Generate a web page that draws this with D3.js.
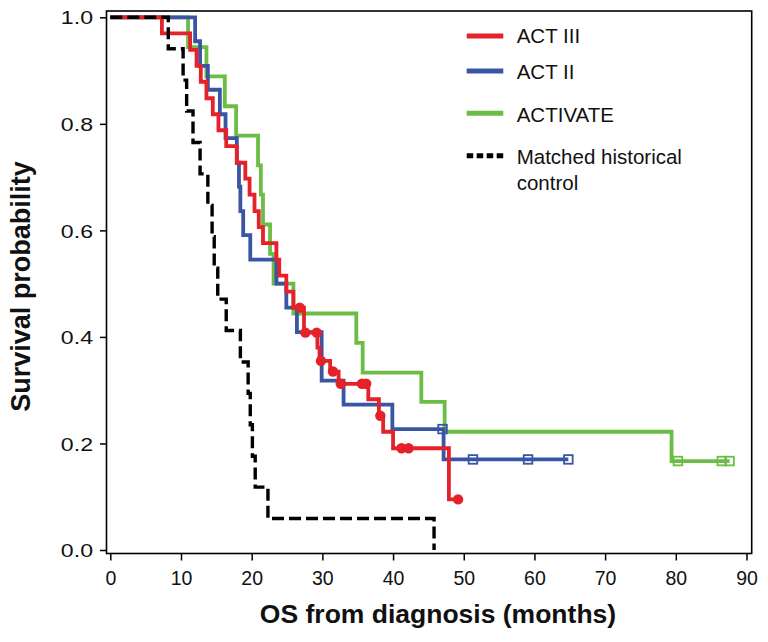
<!DOCTYPE html>
<html>
<head>
<meta charset="utf-8">
<script src="https://cdn.jsdelivr.net/npm/d3@7"></script>
<style>
  html, body { margin: 0; padding: 0; background: #fff; }
  svg { display: block; font-family: "Liberation Sans", Arial, Helvetica, sans-serif; }
</style>
</head>
<body>
<svg id="chart" width="768" height="642"></svg>
<script>
// ---- Data ----
const xTicks = [0, 10, 20, 30, 40, 50, 60, 70, 80, 90];
const yTicks = [0, 0.2, 0.4, 0.6, 0.8, 1.0];

// Kaplan-Meier steps: [month, survival after the step]
const actIIISteps = [[0,1],[7.3,0.970],[11.3,0.939],[12.2,0.909],[12.8,0.879],[13.6,0.848],[14.5,0.818],[15.3,0.788],[16.4,0.758],[17.9,0.727],[19.1,0.697],[19.7,0.667],[20.4,0.636],[21.0,0.606],[21.6,0.576],[23.5,0.545],[23.9,0.515],[24.9,0.485],[25.9,0.455],[27.4,0.408],[29.3,0.380],[29.6,0.355],[31.1,0.335],[32.3,0.312],[36.5,0.283],[38.0,0.252],[38.6,0.222],[40.0,0.191],[47.9,0.095]];
const actIIICensor = [26.8, 27.6, 29.2, 29.8, 31.5, 32.6, 35.6, 36.2, 38.2, 41.2, 42.2, 49.2];

const actIISteps = [[0,1],[12.0,0.955],[12.7,0.909],[13.8,0.864],[15.5,0.818],[16.3,0.773],[17.9,0.727],[18.2,0.682],[18.4,0.636],[18.8,0.591],[19.8,0.545],[23.5,0.500],[24.9,0.455],[26.4,0.409],[29.9,0.318],[33.0,0.273],[39.9,0.227],[47.15,0.170]];
const actIICensor = [47.0, 51.3, 59.1, 64.8];

const activateSteps = [[0,1],[11.0,0.944],[13.6,0.889],[16.2,0.833],[17.8,0.778],[20.9,0.722],[21.3,0.667],[21.6,0.611],[22.6,0.556],[23.1,0.500],[25.9,0.444],[34.8,0.389],[35.7,0.333],[44.0,0.278],[47.3,0.222],[79.4,0.167]];
const activateCensor = [80.3, 86.5, 87.6];

const controlSteps = [[0,1],[8.2,0.941],[10.3,0.882],[10.8,0.824],[11.7,0.765],[12.7,0.706],[13.8,0.647],[14.4,0.588],[14.7,0.529],[15.2,0.471],[16.4,0.412],[18.4,0.353],[19.5,0.294],[19.8,0.235],[20.1,0.176],[20.5,0.118],[22.3,0.059],[45.8,0]];

const seriesNames = ["ACT III", "ACT II", "ACTIVATE", "Matched historical control"];
const colors = { red: "#E52129", blue: "#3B55A5", green: "#6CBD45", black: "#000000" };

// ---- Layout ----
const svg = d3.select("#chart");
svg.append("rect").attr("width", 768).attr("height", 642).attr("fill", "#fff");

const x = d3.scaleLinear().domain([0, 90]).range([110.3, 746.5]);
const y = d3.scaleLinear().domain([0, 1]).range([550, 17.3]);

const box = { left: 106.5, top: 11, right: 751.7, bottom: 553.5 };

// survival value at time t from a step list
function survAt(steps, t) {
  let s = steps[0][1];
  for (const [tt, ss] of steps) { if (tt <= t) s = ss; }
  return s;
}

const stepLine = d3.line().x(d => x(d[0])).y(d => y(d[1])).curve(d3.curveStepAfter);

function drawSeries(steps, endT, color, opts) {
  const pts = steps.slice();
  if (endT !== null && endT > pts[pts.length - 1][0]) pts.push([endT, survAt(steps, endT)]);
  const p = svg.append("path")
    .attr("d", stepLine(pts))
    .attr("fill", "none")
    .attr("stroke", color)
    .attr("stroke-width", opts.width)
    .attr("stroke-linejoin", "miter")
    .attr("stroke-linecap", "butt");
  if (opts.dash) p.attr("stroke-dasharray", opts.dash);
}

// Green
drawSeries(activateSteps, activateCensor[activateCensor.length - 1], colors.green, { width: 3.8 });
svg.append("g").selectAll("rect").data(activateCensor).join("rect")
  .attr("x", d => x(d) - 4.3).attr("y", d => y(survAt(activateSteps, d)) - 4.3)
  .attr("width", 8.6).attr("height", 8.6)
  .attr("fill", "none").attr("stroke", colors.green).attr("stroke-width", 1.8);

// Blue
drawSeries(actIISteps, actIICensor[actIICensor.length - 1], colors.blue, { width: 3.8 });
svg.append("g").selectAll("rect").data(actIICensor).join("rect")
  .attr("x", d => x(d) - 4.3).attr("y", d => y(survAt(actIISteps, d)) - 4.3)
  .attr("width", 8.6).attr("height", 8.6)
  .attr("fill", "none").attr("stroke", colors.blue).attr("stroke-width", 1.8);

// Red
drawSeries(actIIISteps, actIIICensor[actIIICensor.length - 1], colors.red, { width: 3.8 });
svg.append("g").selectAll("circle").data(actIIICensor).join("circle")
  .attr("cx", d => x(d)).attr("cy", d => y(survAt(actIIISteps, d)))
  .attr("r", 5.2).attr("fill", colors.red);

// Black dashed
drawSeries(controlSteps, null, colors.black, { width: 3.4, dash: "12,5" });

// ---- Box ----
svg.append("rect")
  .attr("x", box.left).attr("y", box.top)
  .attr("width", box.right - box.left).attr("height", box.bottom - box.top)
  .attr("fill", "none").attr("stroke", "#000").attr("stroke-width", 1.6);

// ---- Axes ----
const yAxis = svg.append("g").attr("transform", `translate(${box.left},0)`)
  .call(d3.axisLeft(y).tickValues(yTicks).tickFormat(d3.format(".1f")).tickSize(6.5));
yAxis.select(".domain").remove();
yAxis.selectAll("line").attr("stroke", "#000").attr("stroke-width", 1.5);
yAxis.selectAll("text")
  .attr("x", 0).attr("dy", "0.36em")
  .attr("text-anchor", "end")
  .attr("transform", "translate(-13.5,0) scale(1.25,1)")
  .attr("font-size", 18.5).attr("fill", "#111")
  .attr("font-family", "'Liberation Sans', Arial, sans-serif");

const xAxis = svg.append("g").attr("transform", `translate(0,${box.bottom})`)
  .call(d3.axisBottom(x).tickValues(xTicks).tickFormat(d3.format("d")).tickSize(7));
xAxis.select(".domain").remove();
xAxis.selectAll("line").attr("stroke", "#000").attr("stroke-width", 1.5);
xAxis.selectAll("text")
  .attr("y", 31.5).attr("dy", 0)
  .attr("font-size", 19.5).attr("fill", "#111")
  .attr("font-family", "'Liberation Sans', Arial, sans-serif");

// ---- Axis titles ----
svg.append("text")
  .attr("x", 438).attr("y", 623)
  .attr("text-anchor", "middle")
  .attr("font-size", 26.5).attr("font-weight", "bold").attr("fill", "#111")
  .text("OS from diagnosis (months)");

svg.append("text")
  .attr("transform", "translate(30,286.5) rotate(-90)")
  .attr("text-anchor", "middle")
  .attr("font-size", 27).attr("font-weight", "bold").attr("fill", "#111")
  .text("Survival probability");

// ---- Legend ----
const legendItems = [
  { label: [seriesNames[0]], color: colors.red, ly: 36, ty: 43.3, dash: null },
  { label: [seriesNames[1]], color: colors.blue, ly: 71, ty: 79, dash: null },
  { label: [seriesNames[2]], color: colors.green, ly: 113.3, ty: 121.7, dash: null },
  { label: ["Matched historical", "control"], color: colors.black, ly: 155.7, ty: 164, dash: "6.5,3.5" }
];
const lg = svg.append("g");
legendItems.forEach(it => {
  const l = lg.append("line")
    .attr("x1", 466.7).attr("x2", 503.3)
    .attr("y1", it.ly).attr("y2", it.ly)
    .attr("stroke", it.color).attr("stroke-width", 5);
  if (it.dash) l.attr("stroke-dasharray", it.dash);
  const t = lg.append("text")
    .attr("x", 516.7).attr("y", it.ty)
    .attr("font-size", 20.5).attr("fill", "#111");
  it.label.forEach((s, i) => {
    t.append("tspan").attr("x", 516.7).attr("dy", i === 0 ? 0 : 26).text(s);
  });
});
</script>
</body>
</html>
